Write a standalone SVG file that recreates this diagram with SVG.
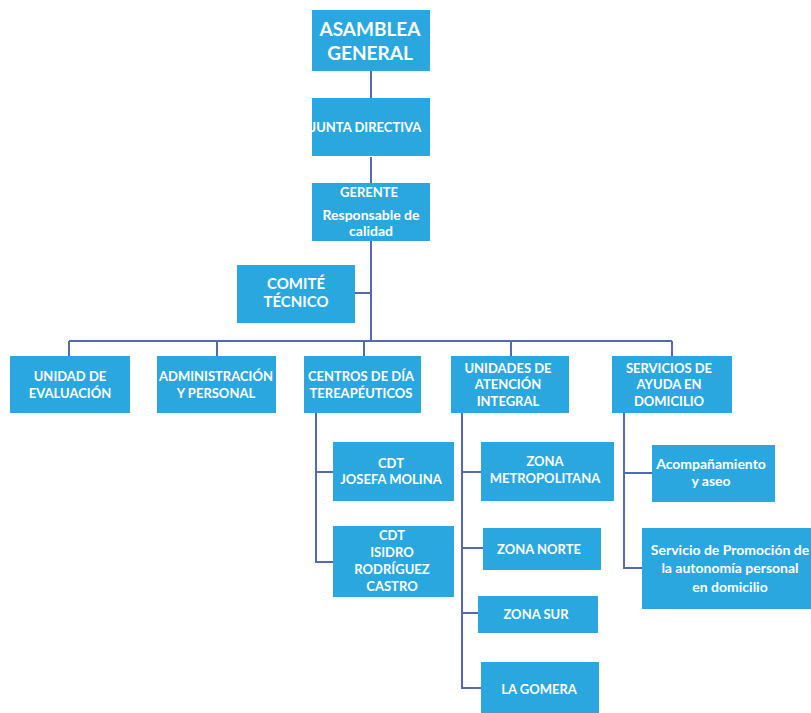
<svg xmlns="http://www.w3.org/2000/svg" width="811" height="713" viewBox="0 0 811 713">
<style>
.b{fill:#2AA7DF}
.t{font-family:Lato,"Liberation Sans",sans-serif;font-weight:bold;fill:#fff;font-size:13px;text-anchor:middle}
.big{font-size:19px}
.mid{font-size:15px}
.lc{font-size:14px}
.c{fill:none;stroke:#5568B2;stroke-width:2}
</style>
<rect width="811" height="713" fill="#fff"/>
<g id="connectors">
<path class="c" d="M371 71V98M371 157V183M371 241V341M355 293H371M69 341H672M69 341V356M217 341V356M364 341V356M511 341V356M672 341V356"/>
<path class="c" d="M316 413V562H333M316 472H333"/>
<path class="c" d="M462 413V688H481M462 472H481M462 548H483M462 613H478"/>
<path class="c" d="M624 413V568H642M624 473H652"/>
</g>
<g id="asamblea"><rect class="b" x="312" y="10" width="118" height="61"/><text class="t big" x="370" y="36">ASAMBLEA</text><text class="t big" x="370" y="60">GENERAL</text></g>
<g id="junta"><rect class="b" x="312" y="98" width="118" height="58"/><text class="t" x="366" y="132">JUNTA DIRECTIVA</text></g>
<g id="gerente"><rect class="b" x="312" y="183" width="118" height="58"/><text class="t" x="369" y="197">GERENTE</text><text class="t lc" x="371" y="220">Responsable de</text><text class="t lc" x="371" y="236">calidad</text></g>
<g id="comite"><rect class="b" x="237" y="265" width="118" height="58"/><text class="t mid" x="296" y="289">COMITÉ</text><text class="t mid" x="296" y="307">TÉCNICO</text></g>
<g id="evaluacion"><rect class="b" x="10" y="356" width="120" height="57"/><text class="t" x="70" y="381">UNIDAD DE</text><text class="t" x="70" y="398">EVALUACIÓN</text></g>
<g id="administracion"><rect class="b" x="157" y="356" width="119" height="57"/><text class="t" x="216" y="381">ADMINISTRACIÓN</text><text class="t" x="216" y="398">Y PERSONAL</text></g>
<g id="centros"><rect class="b" x="304" y="356" width="117" height="57"/><text class="t" x="361" y="381">CENTROS DE DÍA</text><text class="t" x="361" y="398">TEREAPÉUTICOS</text></g>
<g id="unidades"><rect class="b" x="451" y="356" width="118" height="57"/><text class="t" x="508" y="373">UNIDADES DE</text><text class="t" x="508" y="389">ATENCIÓN</text><text class="t" x="508" y="406">INTEGRAL</text></g>
<g id="servicios"><rect class="b" x="612" y="356" width="120" height="57"/><text class="t" x="669" y="373">SERVICIOS DE</text><text class="t" x="669" y="389">AYUDA EN</text><text class="t" x="669" y="406">DOMICILIO</text></g>
<g id="cdt-josefa"><rect class="b" x="333" y="442" width="121" height="59"/><text class="t" x="391" y="468">CDT</text><text class="t" x="391" y="484">JOSEFA MOLINA</text></g>
<g id="cdt-isidro"><rect class="b" x="333" y="526" width="121" height="71"/><text class="t" x="392" y="540">CDT</text><text class="t" x="392" y="557">ISIDRO</text><text class="t" x="392" y="574">RODRÍGUEZ</text><text class="t" x="392" y="591">CASTRO</text></g>
<g id="zona-metro"><rect class="b" x="481" y="442" width="133" height="59"/><text class="t" x="545" y="466">ZONA</text><text class="t" x="545" y="483">METROPOLITANA</text></g>
<g id="zona-norte"><rect class="b" x="483" y="528" width="118" height="42"/><text class="t" x="539" y="554">ZONA NORTE</text></g>
<g id="zona-sur"><rect class="b" x="478" y="596" width="120" height="37"/><text class="t" x="536" y="619">ZONA SUR</text></g>
<g id="la-gomera"><rect class="b" x="481" y="662" width="118" height="51"/><text class="t" x="539" y="694">LA GOMERA</text></g>
<g id="acompanamiento"><rect class="b" x="652" y="445" width="123" height="57"/><text class="t lc" x="711" y="469">Acompañamiento</text><text class="t lc" x="711" y="486">y aseo</text></g>
<g id="promocion"><rect class="b" x="642" y="528" width="169" height="81"/><text class="t lc" x="730" y="555">Servicio de Promoción de</text><text class="t lc" x="730" y="573">la autonomía personal</text><text class="t lc" x="730" y="592">en domicilio</text></g>
</svg>
